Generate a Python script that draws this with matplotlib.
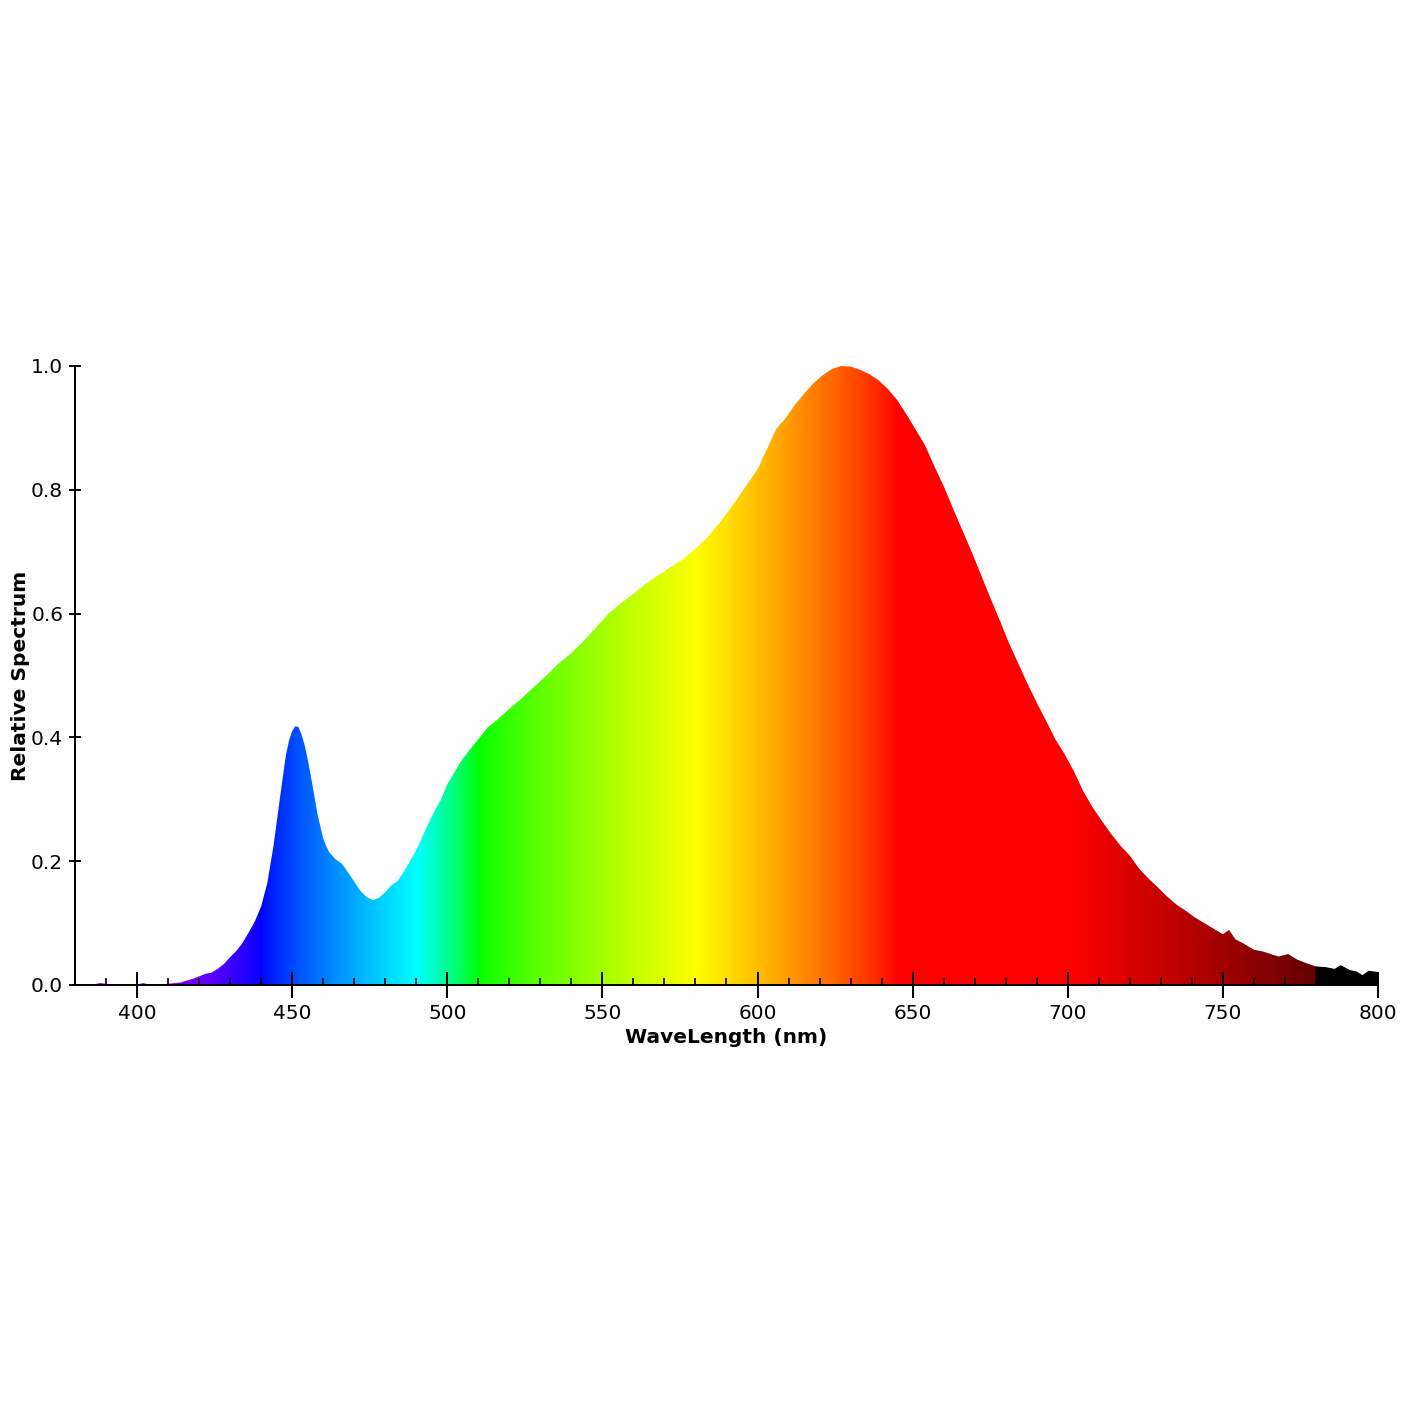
#!/usr/bin/env python3
"""Relative emission spectrum filled with the visible-light colours."""

import numpy as np
import matplotlib
matplotlib.use("Agg")
import matplotlib.pyplot as plt
from matplotlib.patches import Polygon
from matplotlib.ticker import MultipleLocator, FormatStrFormatter

# Spectrum (nm, relative intensity)
wavelength = [
    383, 386, 388, 390, 392, 395, 398, 400, 402, 404, 406, 410, 412, 414,
    416, 418, 420, 422, 424, 426, 428, 430, 432, 434, 436, 438, 440, 442,
    444, 446, 448, 449, 450, 451, 452, 453, 454, 455, 456, 457, 458, 459,
    460, 461, 462, 464, 466, 468, 470, 472, 474, 476, 478, 480, 482, 484,
    486, 488, 490, 492, 494, 496, 498, 500, 502, 504, 506, 508, 510, 513,
    516, 520, 524, 528, 532, 536, 540, 544, 548, 552, 556, 560, 564, 568,
    572, 576, 580, 584, 588, 592, 596, 600, 603, 606, 609, 612, 615, 618,
    621, 624, 627, 630, 633, 636, 639, 642, 645, 648, 651, 654, 657, 660,
    663, 666, 669, 672, 675, 678, 681, 684, 687, 690, 693, 696, 699, 702,
    705, 708, 711, 714, 717, 720, 723, 726, 729, 732, 735, 738, 741, 744,
    747, 750, 752, 754, 757, 760, 763, 766, 768, 771, 774, 777, 780, 783,
    786, 788, 791, 793, 795, 797, 800,
]
relative = [
    0.000, 0.001, 0.003, 0.002, 0.000, 0.001, 0.000, 0.001, 0.003, 0.001,
    0.000, 0.002, 0.003, 0.004, 0.007, 0.010, 0.014, 0.018, 0.020, 0.026,
    0.034, 0.045, 0.055, 0.068, 0.085, 0.103, 0.127, 0.165, 0.225, 0.300,
    0.372, 0.395, 0.410, 0.418, 0.417, 0.405, 0.388, 0.365, 0.338, 0.310,
    0.280, 0.258, 0.237, 0.224, 0.214, 0.203, 0.196, 0.182, 0.167, 0.152,
    0.142, 0.137, 0.141, 0.150, 0.161, 0.168, 0.183, 0.200, 0.218, 0.240,
    0.262, 0.282, 0.300, 0.324, 0.341, 0.358, 0.372, 0.385, 0.397, 0.416,
    0.428, 0.446, 0.463, 0.482, 0.500, 0.520, 0.536, 0.556, 0.578, 0.600,
    0.617, 0.632, 0.648, 0.662, 0.675, 0.688, 0.705, 0.724, 0.748, 0.775,
    0.804, 0.833, 0.865, 0.898, 0.915, 0.937, 0.955, 0.972, 0.985, 0.995,
    1.000, 0.999, 0.994, 0.987, 0.977, 0.963, 0.945, 0.922, 0.897, 0.872,
    0.838, 0.806, 0.770, 0.735, 0.700, 0.663, 0.626, 0.590, 0.553, 0.520,
    0.487, 0.456, 0.427, 0.397, 0.373, 0.345, 0.313, 0.287, 0.265, 0.244,
    0.225, 0.209, 0.188, 0.172, 0.158, 0.143, 0.130, 0.120, 0.109, 0.100,
    0.091, 0.082, 0.089, 0.074, 0.066, 0.057, 0.054, 0.049, 0.046, 0.050,
    0.041, 0.035, 0.030, 0.029, 0.026, 0.032, 0.024, 0.022, 0.016, 0.023,
    0.021,
]


def wavelength_to_rgb(wl, gamma=0.8):
    """Approximate RGB colour of a wavelength in nm (Bruton's scheme)."""
    if 380 <= wl < 440:
        r, g, b = -(wl - 440) / 60.0, 0.0, 1.0
    elif 440 <= wl < 490:
        r, g, b = 0.0, (wl - 440) / 50.0, 1.0
    elif 490 <= wl < 510:
        r, g, b = 0.0, 1.0, -(wl - 510) / 20.0
    elif 510 <= wl < 580:
        r, g, b = (wl - 510) / 70.0, 1.0, 0.0
    elif 580 <= wl < 645:
        r, g, b = 1.0, -(wl - 645) / 65.0, 0.0
    elif 645 <= wl <= 780:
        r, g, b = 1.0, 0.0, 0.0
    else:
        r, g, b = 0.0, 0.0, 0.0

    if 380 <= wl < 420:
        factor = 0.3 + 0.7 * (wl - 380) / 40.0
    elif 420 <= wl <= 700:
        factor = 1.0
    elif 700 < wl <= 780:
        factor = 0.3 + 0.7 * (780 - wl) / 80.0
    else:
        factor = 0.0

    return tuple((c * factor) ** gamma if c > 0 else 0.0 for c in (r, g, b))


def main():
    xlim = (380, 800)

    fig = plt.figure(figsize=(14.2, 14.2), dpi=100)
    ax = fig.add_axes([75 / 1420, 1 - 985 / 1420, 1303 / 1420, 619 / 1420])

    # colour strip behind the curve
    xs = np.linspace(xlim[0], xlim[1], 1400)
    strip = np.array([wavelength_to_rgb(w) for w in xs])[None, :, :]
    strip = np.repeat(strip, 4, axis=0)
    im = ax.imshow(strip, extent=(xlim[0], xlim[1], 0, 1), aspect="auto",
                   interpolation="bilinear", zorder=1)

    verts = [(wavelength[0], 0.0)] + list(zip(wavelength, relative)) + [(wavelength[-1], 0.0)]
    shape = Polygon(verts, closed=True, facecolor="none", edgecolor="none")
    ax.add_patch(shape)
    im.set_clip_path(shape)

    ax.set_xlim(xlim)
    ax.set_ylim(0, 1)

    for side in ("top", "right"):
        ax.spines[side].set_visible(False)
    for side in ("left", "bottom"):
        ax.spines[side].set_linewidth(1.4)
        ax.spines[side].set_zorder(3)

    ax.xaxis.set_major_locator(MultipleLocator(50))
    ax.xaxis.set_minor_locator(MultipleLocator(10))
    ax.yaxis.set_major_locator(MultipleLocator(0.2))
    ax.yaxis.set_major_formatter(FormatStrFormatter("%.1f"))

    ax.tick_params(axis="x", which="major", direction="inout", length=19,
                   width=1.4, labelsize=14.5, pad=4.5)
    ax.tick_params(axis="x", which="minor", direction="in", length=5, width=1.2)
    ax.tick_params(axis="y", which="major", direction="inout", length=8,
                   width=1.4, labelsize=14.5, pad=4.5)

    ax.set_xlabel("WaveLength (nm)", fontsize=14.5, fontweight="bold", labelpad=3.5)
    ax.set_ylabel("Relative Spectrum", fontsize=14.5, fontweight="bold", labelpad=1)

    fig.savefig("out.png", dpi=100)


if __name__ == "__main__":
    main()
